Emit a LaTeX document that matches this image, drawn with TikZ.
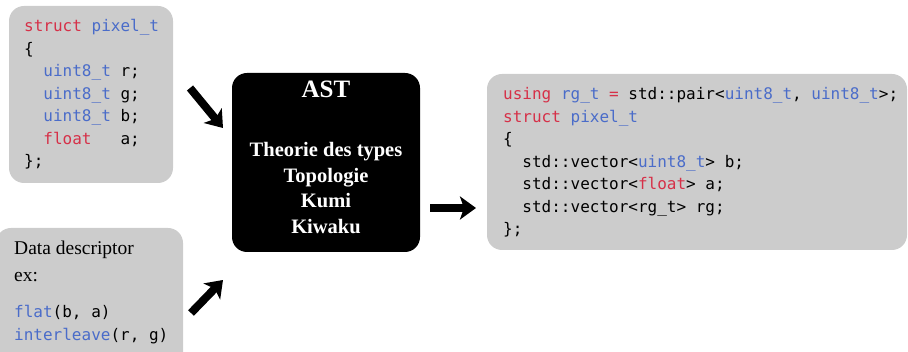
\documentclass[tikz,border=0pt]{standalone}
\usepackage{fontspec}
\setmainfont{Liberation Serif}
\newfontfamily\codefont{DejaVu Sans Mono}
\usetikzlibrary{arrows.meta}
\definecolor{kwred}{RGB}{214,48,72}
\definecolor{tyblue}{RGB}{74,108,201}
\definecolor{boxgray}{RGB}{204,204,204}
\newcommand{\kw}[1]{\textcolor{kwred}{#1}}
\newcommand{\ty}[1]{\textcolor{tyblue}{#1}}
\begin{document}
\begin{tikzpicture}[x=1pt,y=-1pt,
  graybox/.style={fill=boxgray,rounded corners=15pt,inner sep=0pt},
  blackbox/.style={fill=black,rounded corners=15pt,inner sep=0pt},
  codeline/.style={anchor=base west,inner sep=0pt,font=\codefont\fontsize{16}{20}\selectfont},
  serifline/.style={anchor=base west,inner sep=0pt,font=\fontsize{19.5}{22}\selectfont},
  astline/.style={anchor=base,inner sep=0pt,text=white,font=\bfseries\fontsize{20.5}{24}\selectfont},
  bigarrow/.style={line width=8pt,-{Stealth[length=16pt,width=23pt,inset=4pt]}}]
\useasboundingbox (0,0) rectangle (908,352);
% boxes
\node[graybox,minimum width=164pt,minimum height=177pt] (src) at (91,94.5) {};
\node[graybox,minimum width=187pt,minimum height=142pt] (desc) at (89.5,299) {};
\node[blackbox,minimum width=188pt,minimum height=179pt] (ast) at (326,162.5) {};
\node[graybox,minimum width=420pt,minimum height=176pt] (dst) at (697,162) {};
% source struct
\node[codeline] (s1) at (24,32) {\kw{struct} \ty{pixel\_t}};
\node[codeline] (s2) at (24,54.5) {\{};
\node[codeline] (s3) at (24,77) {\ \ \ty{uint8\_t} r;};
\node[codeline] (s4) at (24,99.5) {\ \ \ty{uint8\_t} g;};
\node[codeline] (s5) at (24,122) {\ \ \ty{uint8\_t} b;};
\node[codeline] (s6) at (24,144.5) {\ \ \kw{float}\ \ \ a;};
\node[codeline] (s7) at (24,167) {\};};
% descriptor
\node[serifline] (d1) at (14,255) {Data descriptor};
\node[serifline] (d2) at (14,282) {ex:};
\node[codeline] (d3) at (14,318) {\ty{flat}(b, a)};
\node[codeline] (d4) at (14,341) {\ty{interleave}(r, g)};
% AST
\node[astline,font=\bfseries\fontsize{25}{28}\selectfont] (a0) at (326,98) {AST};
\node[astline] (a1) at (326,157) {Theorie des types};
\node[astline] (a2) at (326,182.5) {Topologie};
\node[astline] (a3) at (326,208) {Kumi};
\node[astline] (a4) at (326,233.5) {Kiwaku};
% result struct
\node[codeline] (r1) at (503,100) {\kw{using} \ty{rg\_t} \kw{=} std::pair<\ty{uint8\_t}, \ty{uint8\_t}>;};
\node[codeline] (r2) at (503,122.5) {\kw{struct} \ty{pixel\_t}};
\node[codeline] (r3) at (503,145) {\{};
\node[codeline] (r4) at (503,167.5) {\ \ std::vector<\ty{uint8\_t}> b;};
\node[codeline] (r5) at (503,190) {\ \ std::vector<\kw{float}> a;};
\node[codeline] (r6) at (503,212.5) {\ \ std::vector<rg\_t> rg;};
\node[codeline] (r7) at (503,235) {\};};
% arrows
\coordinate (t1) at (190,88);
\coordinate (h1) at (223,128);
\coordinate (t2) at (191,313);
\coordinate (h2) at (223,280);
\coordinate (t3) at (430,208);
\coordinate (h3) at (476,208);
\draw[bigarrow] (t1) -- (h1);
\draw[bigarrow] (t2) -- (h2);
\draw[bigarrow] (t3) -- (h3);
\end{tikzpicture}
\end{document}
